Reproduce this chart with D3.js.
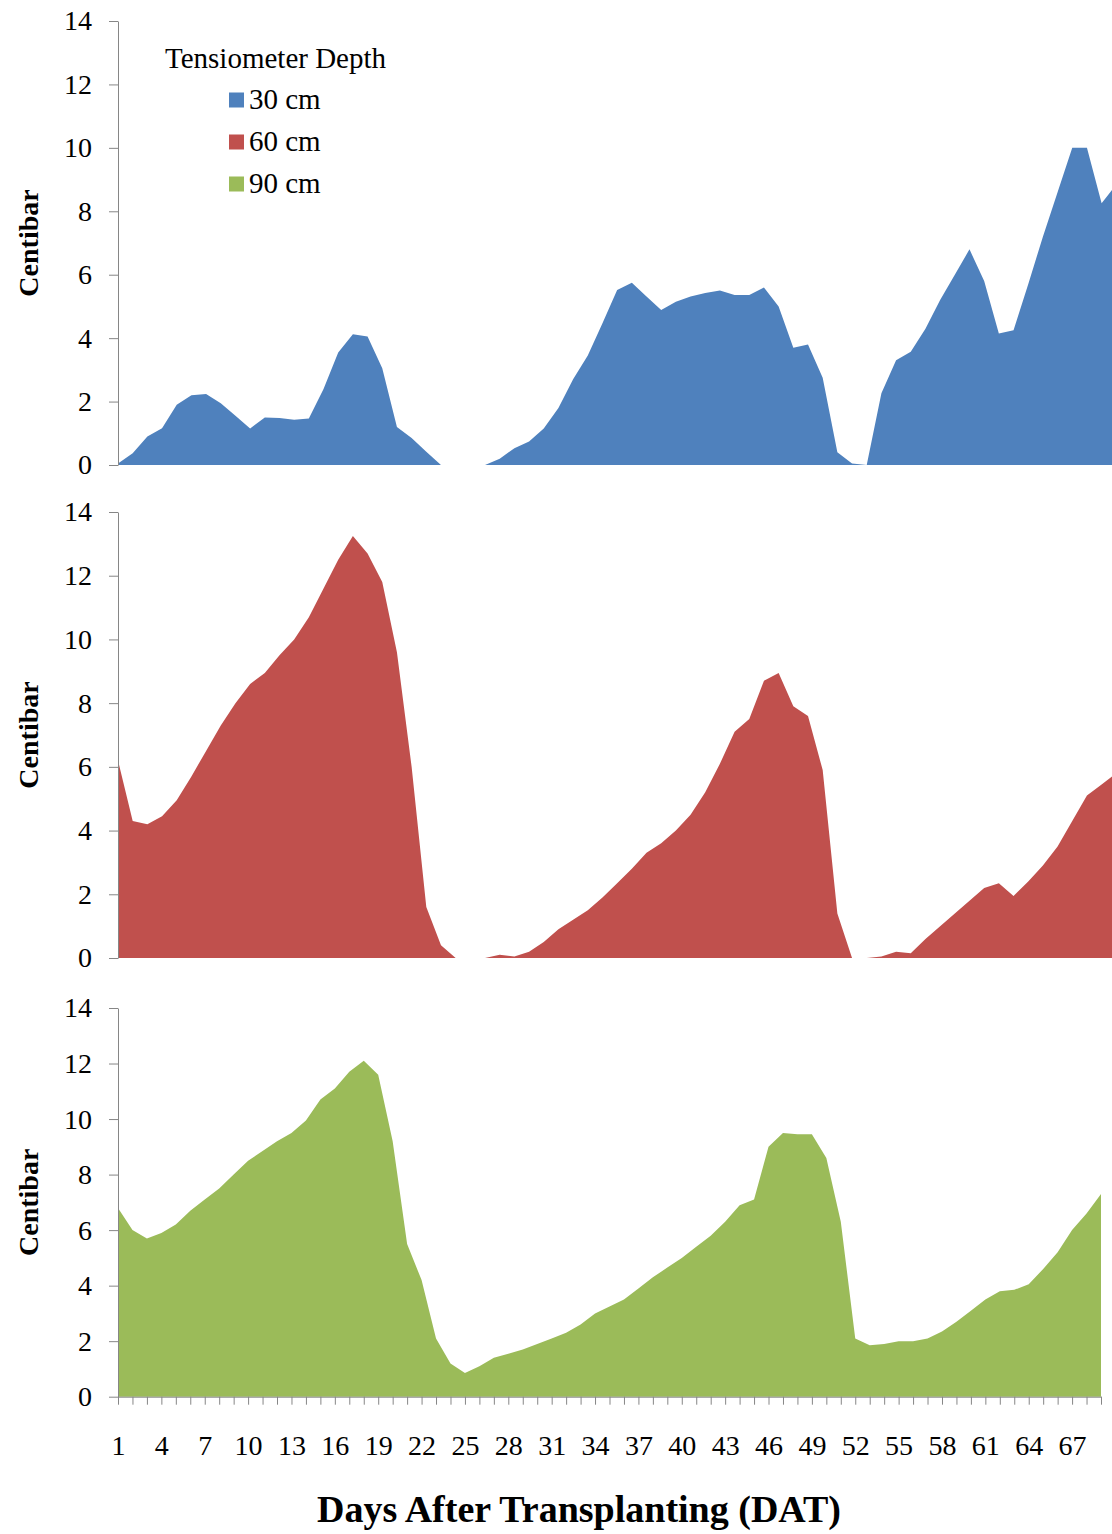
<!DOCTYPE html>
<html>
<head>
<meta charset="utf-8">
<script src="https://cdn.jsdelivr.net/npm/d3@7"></script>
<style>
  body { margin: 0; background: #fff; }
  text { font-family: "Liberation Serif", "Times New Roman", serif; fill: #000; }
</style>
</head>
<body>
<div id="chart"></div>
<script>
// categories: days after transplanting
const days = d3.range(1, 70)
const xTickLabels = [1, 4, 7, 10, 13, 16, 19, 22, 25, 28, 31, 34, 37, 40, 43, 46, 49, 52, 55, 58, 61, 64, 67]
const yTicks = [0, 2, 4, 6, 8, 10, 12, 14]
const depthNames = ["30 cm", "60 cm", "90 cm"]
const depthColors = ["#4f81bd", "#c0504d", "#9bbb59"]

// centibar readings, one per day
const depth30 = [0.05, 0.37, 0.9, 1.16, 1.9, 2.2, 2.24, 1.95, 1.55, 1.15,
  1.5, 1.48, 1.43, 1.47, 2.4, 3.55, 4.12, 4.05, 3.05, 1.2,
  0.85, 0.42, 0, 0, 0, 0, 0.2, 0.53, 0.74, 1.15,
  1.8, 2.7, 3.45, 4.47, 5.52, 5.75, 5.31, 4.89, 5.15, 5.31,
  5.42, 5.5, 5.36, 5.36, 5.6, 5.0, 3.7, 3.8, 2.75, 0.4,
  0.05, 0, 2.26, 3.3, 3.57, 4.3, 5.2, 6.0, 6.8, 5.8,
  4.15, 4.25, 5.7, 7.2, 8.6, 10.0, 10.0, 8.25, 8.85]

const depth60 = [6.2, 4.3, 4.2, 4.45, 4.95, 5.7, 6.5, 7.3, 8.0, 8.6,
  8.95, 9.5, 10.0, 10.7, 11.6, 12.5, 13.25, 12.7, 11.8, 9.6,
  6.0, 1.6, 0.4, 0, 0, 0, 0.1, 0.05, 0.2, 0.5,
  0.9, 1.2, 1.5, 1.9, 2.35, 2.8, 3.3, 3.6, 4.0, 4.5,
  5.2, 6.1, 7.1, 7.5, 8.7, 8.95, 7.9, 7.6, 5.9, 1.4,
  0, 0, 0.05, 0.2, 0.15, 0.6, 1.0, 1.4, 1.8, 2.2,
  2.35, 1.95, 2.4, 2.9, 3.5, 4.3, 5.1, 5.45, 5.8]

const depth90 = [6.8, 6.0, 5.7, 5.9, 6.2, 6.7, 7.1, 7.5, 8.0, 8.5,
  8.85, 9.2, 9.5, 9.95, 10.7, 11.1, 11.7, 12.1, 11.6, 9.2,
  5.5, 4.2, 2.1, 1.2, 0.85, 1.1, 1.4, 1.55, 1.7, 1.9,
  2.1, 2.3, 2.6, 3.0, 3.25, 3.5, 3.9, 4.3, 4.65, 5.0,
  5.4, 5.8, 6.3, 6.9, 7.1, 9.0, 9.5, 9.45, 9.45, 8.6,
  6.3, 2.1, 1.85, 1.9, 2.0, 2.0, 2.1, 2.35, 2.7, 3.1,
  3.5, 3.8, 3.85, 4.05, 4.6, 5.2, 6.0, 6.6, 7.3]

const series = [depth30, depth60, depth90]

const W = 1112, H = 1534
const svg = d3.select("#chart")
  .append("svg")
  .attr("width", W)
  .attr("height", H)

// panel frames: the top two charts run a little past the right edge
const panels = [
  {top: 21, bottom: 465, right: 1116.3},
  {top: 512, bottom: 958, right: 1116.3},
  {top: 1008, bottom: 1396.7, right: 1101}
]
const left = 118

panels.forEach(function(p, i) {
  const x = d3.scalePoint()
    .domain(days)
    .range([left, p.right])

  const y = d3.scaleLinear()
    .domain([0, 14])
    .range([p.bottom, p.top])

  const data = days.map((d, k) => ({day: d, v: series[i][k]}))

  const area = d3.area()
    .x(d => x(d.day))
    .y0(y(0))
    .y1(d => y(d.v))

  svg.append("path")
    .datum(data)
    .attr("d", area)
    .attr("fill", depthColors[i])

  // y axis
  const ya = svg.append("g")
    .attr("transform", `translate(${left},0)`)
    .call(d3.axisLeft(y).tickValues(yTicks).tickSize(9).tickSizeOuter(0).tickPadding(17))
  ya.select(".domain").attr("stroke", "#868686")
  ya.selectAll(".tick line").attr("stroke", "#868686")
  ya.selectAll(".tick text")
    .style("font-size", "28px")
    .style("font-family", "'Liberation Serif', serif")

  // x axis only on the bottom chart
  if (i === 2) {
    const xa = svg.append("g")
      .attr("transform", `translate(0,${p.bottom})`)
      .call(d3.axisBottom(x)
        .tickValues(days)
        .tickSize(8)
        .tickSizeOuter(0)
        .tickPadding(30)
        .tickFormat(d => xTickLabels.includes(d) ? d : ""))
    xa.select(".domain").attr("stroke", "#868686")
    xa.selectAll(".tick line").attr("stroke", "#868686")
    xa.selectAll(".tick text")
      .style("font-size", "28px")
      .style("font-family", "'Liberation Serif', serif")
  }

  // y title
  svg.append("text")
    .attr("transform", `translate(38,${(p.top + p.bottom) / 2}) rotate(-90)`)
    .attr("text-anchor", "middle")
    .style("font-size", "28px")
    .style("font-weight", "bold")
    .text("Centibar")
})

// x title
svg.append("text")
  .attr("x", 579)
  .attr("y", 1522)
  .attr("text-anchor", "middle")
  .style("font-size", "38px")
  .style("font-weight", "bold")
  .text("Days After Transplanting (DAT)")

// legend
const legend = svg.append("g")
legend.append("text")
  .attr("x", 165)
  .attr("y", 68)
  .style("font-size", "29px")
  .text("Tensiometer Depth")

const legendY = [100, 142, 184]
depthNames.forEach(function(name, i) {
  legend.append("rect")
    .attr("x", 229)
    .attr("y", legendY[i] - 7.5)
    .attr("width", 15)
    .attr("height", 15)
    .attr("fill", depthColors[i])
  legend.append("text")
    .attr("x", 249)
    .attr("y", legendY[i] + 9)
    .style("font-size", "29px")
    .text(name)
})
</script>
</body>
</html>
